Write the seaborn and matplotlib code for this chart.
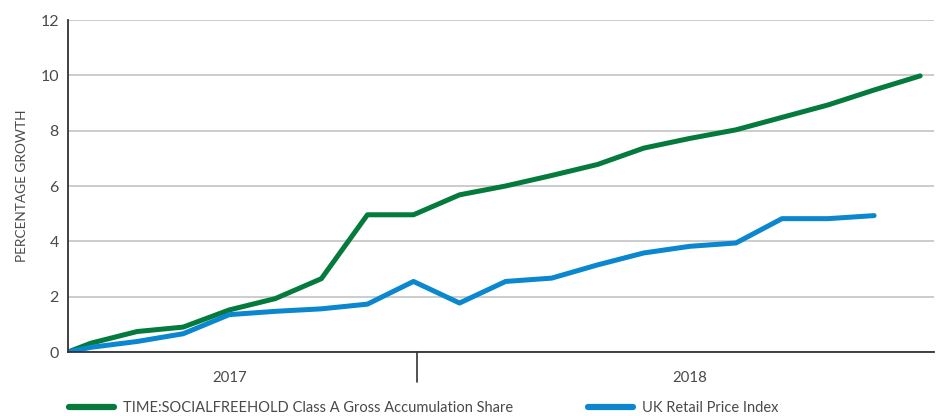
import pandas as pd
import numpy as np
import matplotlib
matplotlib.use("Agg")
import matplotlib.pyplot as plt
import seaborn as sns

# dati (crescita percentuale cumulata, punti mensili)
mesi = [-0.5] + list(range(19))
fondo = [0, 0.32, 0.74, 0.9, 1.52, 1.93, 2.65, 4.96, 4.96, 5.68, 6.0, 6.38,
         6.78, 7.37, 7.72, 8.03, 8.48, 8.93, 9.47, 9.98]
rpi = [0, 0.17, 0.38, 0.66, 1.35, 1.47, 1.56, 1.73, 2.55, 1.77, 2.55, 2.67,
       3.15, 3.58, 3.82, 3.94, 4.82, 4.82, 4.93]
serie = ["TIME:SOCIALFREEHOLD Class A Gross Accumulation Share", "UK Retail Price Index"]
anni = ["2017", "2018"]
pos_anni = [3, 13]
fine_2017 = 7

verde = "#047a3c"
blu = "#0a87cf"
grigio = "#4a4a4a"

dati = pd.concat([
    pd.DataFrame({"mese": mesi[:len(fondo)], "crescita": fondo, "serie": serie[0]}),
    pd.DataFrame({"mese": mesi[:len(rpi)], "crescita": rpi, "serie": serie[1]}),
])

sns.set_style("white")
plt.rcParams["font.family"] = ["Lato", "DejaVu Sans"]

fig = plt.figure(figsize=(9.41, 4.16), dpi=100)
ax = fig.add_axes([68 / 941, 1 - 352 / 416, 866 / 941, 332 / 416])

sns.lineplot(data=dati, x="mese", y="crescita", hue="serie",
             palette={serie[0]: verde, serie[1]: blu}, linewidth=3.6,
             legend=False, ax=ax, solid_capstyle="round")

ax.set_xlim(-0.5, 18.3)
ax.set_ylim(0, 12)
ax.set_yticks(np.arange(0, 13, 2))
ax.yaxis.grid(True, color="#c4c4c4", linewidth=1.2)
ax.set_axisbelow(True)
for s in ["top", "right"]:
    ax.spines[s].set_visible(False)
for s in ["left", "bottom"]:
    ax.spines[s].set_color("#333333")
    ax.spines[s].set_linewidth(1.3)

ax.set_xticks(np.arange(19) + 0.07)
ax.set_xticklabels([])
ax.tick_params(axis="x", length=5.5, width=1.2, color="#333333", direction="out")
ax.tick_params(axis="y", length=4.5, width=1.2, color="#333333", direction="out",
               labelsize=11.5, labelcolor=grigio, pad=2)
ax.set_xlabel("")
ax.set_ylabel("PERCENTAGE GROWTH", fontsize=9.8, color=grigio, labelpad=9)

# divisorio tra gli anni e etichette degli anni
trans = ax.get_xaxis_transform()
ax.plot([fine_2017 + 0.07] * 2, [0, -0.09], transform=trans, color="#333333",
        linewidth=1.2, clip_on=False)
for a, p in zip(anni, pos_anni):
    ax.text(p, -0.078, a, transform=trans, ha="center", va="center",
            fontsize=10.8, color=grigio)

# legenda
for nome, col, x0 in [(serie[0], verde, 63 / 941), (serie[1], blu, 582 / 941)]:
    h = plt.Line2D([], [], color=col, linewidth=4.5)
    fig.legend([h], [nome], loc="center left", bbox_to_anchor=(x0, 8 / 416),
               frameon=False, fontsize=10.5, handlelength=3.1, handletextpad=0.6,
               labelcolor=grigio, borderaxespad=0)

fig.savefig("out.png", dpi=100)
